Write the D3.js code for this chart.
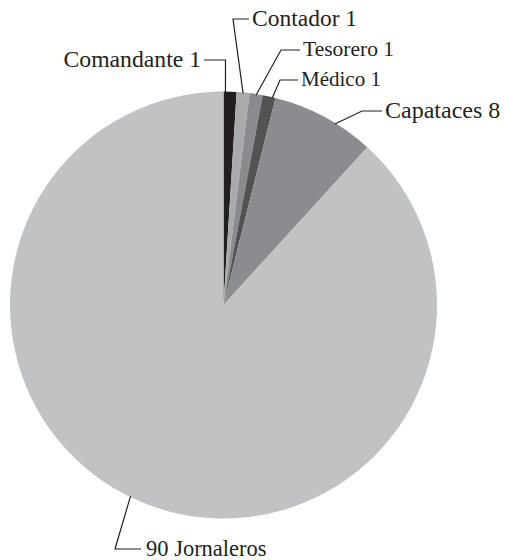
<!DOCTYPE html>
<html><head><meta charset="utf-8">
<script src="https://cdn.jsdelivr.net/npm/d3@7"></script>
<style>body{margin:0;background:#fff}</style>
</head><body>
<svg id="c" width="505" height="560"></svg>
<script>
const categories = ["Comandante", "Contador", "Tesorero", "Médico", "Capataces", "Jornaleros"];
const values = [1, 1, 1, 1, 8, 90];
const labels = ["Comandante 1", "Contador 1", "Tesorero 1", "Médico 1", "Capataces 8", "90 Jornaleros"];
const colors = ["#231f20", "#a9aaac", "#8a8b8e", "#515355", "#8b8c8f", "#c1c2c4"];

// layout for labels: anchor fraction within slice, elbow point, line end, text pos, anchor, size
const labelLayout = [
  {f:0.15, ex:225.5, ey:60, hx:204, tx:201, anchor:"end", size:23.7},
  {f:0.5, ex:233, ey:19, hx:249, tx:252, anchor:"start", size:23.5},
  {f:0.5, ex:281, ey:50, hx:300, tx:303, anchor:"start", size:21.5},
  {f:0.75, ex:280, ey:80, hx:298, tx:301, anchor:"start", size:21},
  {f:0.62, ex:362, ey:111, hx:382, tx:385, anchor:"start", size:24},
  {f:0.515, ex:115, ey:549, hx:141, tx:146, anchor:"start", size:22.5}
];

const cx = 223.5, cy = 305, r = 213.5;
const svg = d3.select("#c");
const g = svg.append("g").attr("transform", `translate(${cx},${cy})`);
const pie = d3.pie().sort(null).value(d => d)(values);
const arc = d3.arc().innerRadius(0).outerRadius(r);
g.selectAll("path").data(pie).enter().append("path")
  .attr("d", arc).attr("fill", (d,i) => colors[i]);

pie.forEach((d, i) => {
  const L = labelLayout[i];
  const a = d.startAngle + (d.endAngle - d.startAngle) * L.f;
  const ax = cx + (r - 1) * Math.sin(a), ay = cy - (r - 1) * Math.cos(a);
  svg.append("path")
    .attr("d", `M${ax},${ay}L${L.ex},${L.ey}L${L.hx},${L.ey}`)
    .attr("fill", "none").attr("stroke", "#231f20").attr("stroke-width", 1.2);
  svg.append("text")
    .attr("x", L.tx).attr("y", L.ey).attr("dy", "0.3em")
    .attr("text-anchor", L.anchor)
    .attr("font-family", "Liberation Serif, Times New Roman, serif")
    .attr("font-size", L.size).attr("fill", "#231f20")
    .text(labels[i]);
});
</script>
</body></html>
